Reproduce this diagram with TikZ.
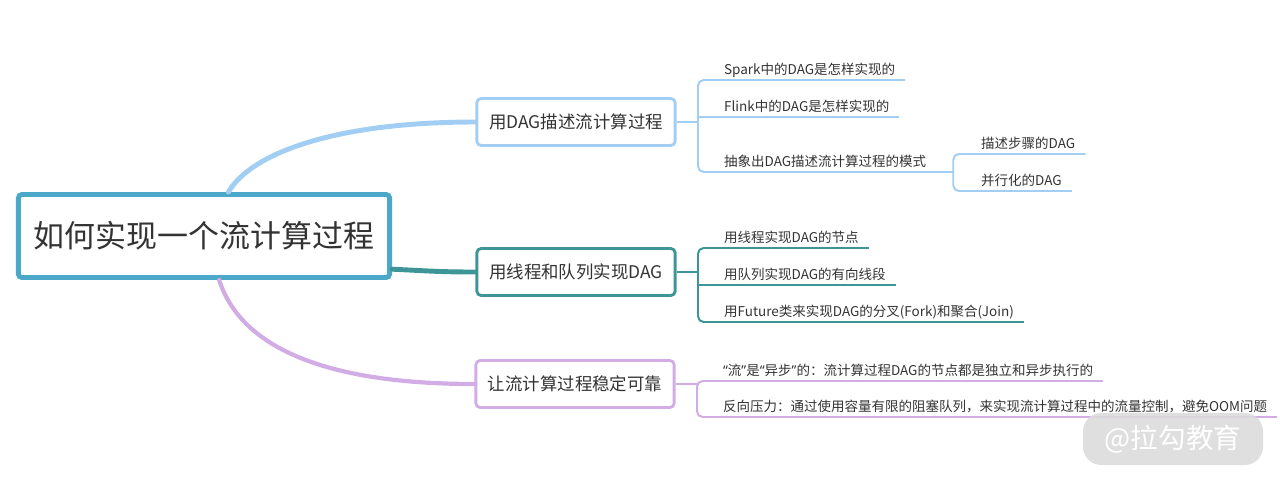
\documentclass[tikz,border=0pt]{standalone}
\usepackage{fontspec}
\setmainfont{Noto Sans CJK SC}
\newfontfamily\quotefont{Noto Sans}
\newcommand{\qopen}{{\quotefont “}}
\newcommand{\qclose}{{\quotefont ”}}
\definecolor{rootc}{HTML}{4CA8C8}
\definecolor{bluec}{HTML}{A3CEF4}
\definecolor{tealc}{HTML}{3E9597}
\definecolor{lilac}{HTML}{D2ACE5}
\definecolor{txt}{HTML}{333333}
\tikzset{
  rootbox/.style={draw=rootc, line width=3.5pt, rounded corners=2.5pt, fill=white, minimum width=264pt, minimum height=59pt, inner sep=0pt, text=txt, font=\fontsize{22}{26}\selectfont},
  topic/.style={draw=#1, line width=2pt, rounded corners=3pt, fill=white, minimum width=141pt, minimum height=33.4pt, inner sep=0pt, text=txt, font=\fontsize{12.4}{15}\selectfont},
  leaf/.style={anchor=south west, inner xsep=7pt, inner ysep=2pt, text depth=0.2em, text=txt, font=\fontsize{9.6}{12}\selectfont},
  branch/.style={draw=#1, line width=3.5pt, line cap=round},
  twig/.style={draw=#1, line width=1.4pt, rounded corners=4pt},
  wmark/.style={fill=gray!28, fill opacity=0.9, text opacity=1, rounded corners=13pt, minimum width=128pt, minimum height=37pt, inner sep=0pt, text=white, font=\fontsize{19.6}{22}\selectfont}
}
\begin{document}
\begin{tikzpicture}[x=0.025cm, y=-0.025cm]
\useasboundingbox (0,0) rectangle (1280,482);
\node[rootbox] (R) at (204,236) {如何实现一个流计算过程};
\node[topic=bluec] (B_1) at (576,122) {用DAG描述流计算过程};
\draw[branch=bluec] (R.61) .. controls (250,155) and (330,122) .. (B_1.west);
\node[topic=tealc] (B_2) at (576,272) {用线程和队列实现DAG};
\draw[branch=tealc] (R.-10.5) .. controls (430,271) and (440,272) .. (B_2.west);
\node[topic=lilac] (B_3) at (575,384) {让流计算过程稳定可靠};
\draw[branch=lilac, line width=3pt] (R.289) .. controls (240,345) and (320,384) .. (B_3.west);
\coordinate (K_1) at (698,122);
\draw[twig=bluec] (B_1.east) -- (K_1);
\node[leaf] (L_1_1) at (714,80) {Spark中的DAG是怎样实现的};
\node[leaf] (L_1_2) at (714,117) {Flink中的DAG是怎样实现的};
\node[leaf] (L_1_3) at (714,172) {抽象出DAG描述流计算过程的模式};
\draw[twig=bluec] (L_1_1.south east) -- (L_1_1.south west -| K_1) -- (L_1_3.south west -| K_1) -- (L_1_3.south east) -- ++(17,0) coordinate (K_2);
\draw[twig=bluec] (L_1_2.south west -| K_1) -- (L_1_2.south east);
\node[leaf] (L_1_3_1) at (971,154) {描述步骤的DAG};
\node[leaf] (L_1_3_2) at (971,191) {并行化的DAG};
\draw[twig=bluec] (L_1_3_1.south east) -- (L_1_3_1.south west -| K_2) -- (L_1_3_2.south west -| K_2) -- (L_1_3_2.south east);
\coordinate (K_3) at (698,272);
\draw[twig=tealc] (B_2.east) -- (K_3);
\node[leaf] (L_2_1) at (714,248) {用线程实现DAG的节点};
\node[leaf] (L_2_2) at (714,285) {用队列实现DAG的有向线段};
\node[leaf] (L_2_3) at (714,322) {用Future类来实现DAG的分叉(Fork)和聚合(Join)};
\draw[twig=tealc] (L_2_1.south east) -- (L_2_1.south west -| K_3) -- (L_2_3.south west -| K_3) -- (L_2_3.south east);
\draw[twig=tealc] (L_2_2.south west -| K_3) -- (L_2_2.south east);
\coordinate (K_4) at (697,384);
\draw[twig=lilac] (B_3.east) -- (K_4);
\node[leaf] (L_3_1) at (713,381) {\qopen 流\qclose 是\qopen 异步\qclose 的：流计算过程DAG的节点都是独立和异步执行的};
\node[leaf] (L_3_2) at (713,417) {反向压力：通过使用容量有限的阻塞队列，来实现流计算过程中的流量控制，避免OOM问题};
\draw[twig=lilac] (L_3_1.south east) -- (L_3_1.south west -| K_4) -- (L_3_2.south west -| K_4) -- (L_3_2.south east);
\node[wmark] (W) at (1173,439) {@拉勾教育};
\end{tikzpicture}
\end{document}
